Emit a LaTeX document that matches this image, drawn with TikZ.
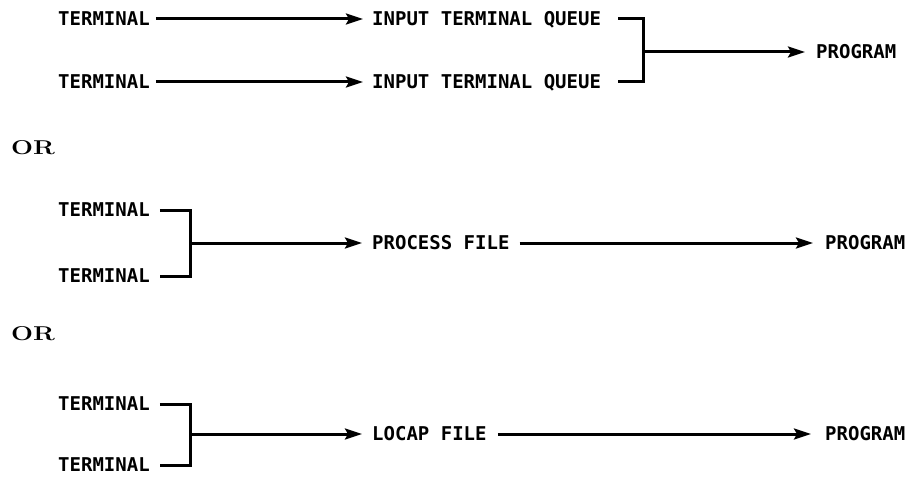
\documentclass[tikz,border=0pt]{standalone}
\usepackage{fontspec}
\newfontfamily\plotfont{DejaVu Sans Mono}
\usetikzlibrary{arrows.meta,positioning}

\begin{document}
\begin{tikzpicture}[
  x=1pt,y=-1pt,
  every node/.style={font=\plotfont\bfseries\fontsize{19}{22}\selectfont,
    inner sep=0pt,anchor=west,text height=13.9pt,text depth=0pt},
  orlabel/.style={font=\fontsize{20}{24}\selectfont\bfseries,text height=14pt},
  link/.style={line width=3pt},
  flow/.style={line width=3pt,-{Stealth[length=17pt,width=11pt,inset=3pt]}}
]
  \useasboundingbox (0,0) rectangle (909,476);

  \node (term a) at (58,19) {TERMINAL};
  \node (term b) at (58,82) {TERMINAL};
  \node (queue a) at (372,19) {INPUT TERMINAL QUEUE};
  \node (queue b) at (372,82) {INPUT TERMINAL QUEUE};
  \coordinate (merge a) at (643,52);
  \node (prog a) at (816,52) {PROGRAM};
  \draw[flow,shorten <=6pt,shorten >=9pt] (term a) -- (queue a);
  \draw[flow,shorten <=6pt,shorten >=9pt] (term b) -- (queue b);
  \draw[link,shorten <=17pt,shorten >=17pt] (queue a.east) -| (merge a) |- (queue b.east);
  \draw[flow,shorten >=11pt] (merge a) -- (prog a);

  \node[orlabel] (or a) at (11,147) {\scalebox{1.3}[1]{OR}};

  \node (term c) at (58,210) {TERMINAL};
  \node (term d) at (58,276) {TERMINAL};
  \coordinate (merge b) at (190,243);
  \node (process) at (372,243) {PROCESS FILE};
  \node (prog b) at (825,243) {PROGRAM};
  \draw[link,shorten <=10pt,shorten >=10pt] (term c.east) -| (merge b) |- (term d.east);
  \draw[flow,shorten >=10pt] (merge b) -- (process);
  \draw[flow,shorten <=10pt,shorten >=12pt] (process) -- (prog b);

  \node[orlabel] (or b) at (11,333) {\scalebox{1.3}[1]{OR}};

  \node (term e) at (58,404) {TERMINAL};
  \node (term f) at (58,465) {TERMINAL};
  \coordinate (merge c) at (190,434);
  \node (locap) at (372,434) {LOCAP FILE};
  \node (prog c) at (825,434) {PROGRAM};
  \draw[link,shorten <=10pt,shorten >=10pt] (term e.east) -| (merge c) |- (term f.east);
  \draw[flow,shorten >=10pt] (merge c) -- (locap);
  \draw[flow,shorten <=11pt,shorten >=14pt] (locap) -- (prog c);
\end{tikzpicture}
\end{document}
